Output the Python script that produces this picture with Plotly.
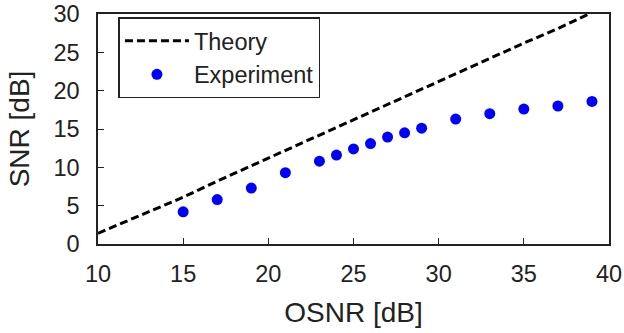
import plotly.graph_objects as go

# Data
theory_osnr = [10, 15, 17, 19, 21, 23, 25, 27, 29, 31, 33, 35, 37, 39]
theory_snr = [1.4, 6.1, 8.2, 10.2, 12.2, 14.2, 16.2, 18.2, 20.3, 22.3, 24.3, 26.2, 28.1, 30.2]

exp_osnr = [15, 17, 19, 21, 23, 24, 25, 26, 27, 28, 29, 31, 33, 35, 37, 39]
exp_snr = [4.2, 5.8, 7.3, 9.3, 10.8, 11.6, 12.4, 13.1, 13.95, 14.5, 15.1, 16.3, 17.0, 17.6, 18.0, 18.6]

x_ticks = [10, 15, 20, 25, 30, 35, 40]
y_ticks = [0, 5, 10, 15, 20, 25, 30]

font_family = "Liberation Sans, Arial, sans-serif"

fig = go.Figure()
fig.add_trace(go.Scatter(
    x=theory_osnr, y=theory_snr, mode="lines", name="Theory",
    line=dict(color="black", width=3, dash="8px,4px"),
))
fig.add_trace(go.Scatter(
    x=exp_osnr, y=exp_snr, mode="markers", name="Experiment",
    marker=dict(color="#0000FF", size=11),
))

axis_common = dict(
    showline=True, linecolor="#222", linewidth=1.5, mirror=True,
    ticks="inside", ticklen=6, tickwidth=1, tickcolor="#222",
    showgrid=False, zeroline=False, automargin=False,
    tickfont=dict(family=font_family, size=23.5, color="#222"),
)

fig.update_layout(
    width=624, height=333,
    margin=dict(l=98, r=15, t=14, b=89),
    paper_bgcolor="white", plot_bgcolor="white",
    font=dict(family=font_family, color="#222"),
    xaxis=dict(range=[10, 40], tickvals=x_ticks, ticklabelstandoff=8,
               title=dict(text="OSNR [dB]", font=dict(family=font_family, size=28, color="#222"), standoff=16),
               **axis_common),
    yaxis=dict(range=[0, 30], tickvals=y_ticks, ticklabelstandoff=12,
               title=dict(text="SNR [dB]", font=dict(family=font_family, size=28, color="#222"), standoff=16),
               **axis_common),
    legend=dict(x=0.04, y=0.985, xanchor="left", yanchor="top",
                bordercolor="#222", borderwidth=1.5, bgcolor="white",
                font=dict(family=font_family, size=23.5, color="#222"),
                tracegroupgap=0, itemwidth=64),
    showlegend=True,
)

fig.write_html("out.html")
